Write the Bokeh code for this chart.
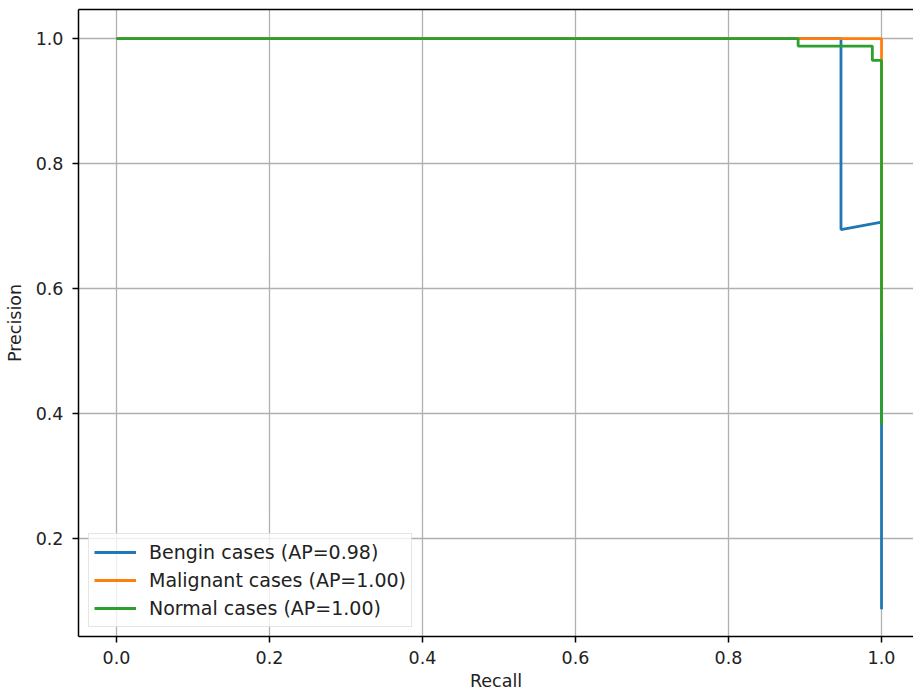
from bokeh.plotting import figure
from bokeh.models import Range1d, FixedTicker, PrintfTickFormatter, Legend, LegendItem, LinearAxis
from bokeh.embed import file_html
from bokeh.resources import INLINE

# Data
benign_recall = [0.0, 0.947, 0.947, 1.0, 1.0]
benign_precision = [1.0, 1.0, 0.694, 0.706, 0.086]
malignant_recall = [0.0, 1.0, 1.0]
malignant_precision = [1.0, 1.0, 0.53]
normal_recall = [0.0, 0.891, 0.891, 0.988, 0.988, 1.0, 1.0]
normal_precision = [1.0, 1.0, 0.988, 0.988, 0.965, 0.965, 0.381]
series_labels = ["Bengin cases (AP=0.98)", "Malignant cases (AP=1.00)", "Normal cases (AP=1.00)"]
series_colors = ["#1f77b4", "#ff7f0e", "#2ca02c"]
x_ticks = [0.0, 0.2, 0.4, 0.6, 0.8, 1.0]
y_ticks = [0.2, 0.4, 0.6, 0.8, 1.0]

FONT = "DejaVu Sans"

p = figure(width=913, height=693, output_backend="svg", toolbar_location=None,
           x_range=Range1d(-0.0497, 1.0418), y_range=Range1d(0.0424, 1.0465),
           min_border_left=78, min_border_top=9, min_border_right=0, min_border_bottom=57)
p.background_fill_color = "white"
p.border_fill_color = "white"
p.outline_line_color = None

# top border line
top = LinearAxis(ticker=FixedTicker(ticks=[]), major_label_text_font_size="0px",
                 major_tick_out=0, major_tick_in=0, minor_tick_out=0, minor_tick_in=0,
                 major_label_standoff=0, axis_line_color="black", axis_line_width=1.5)
p.add_layout(top, "above")

for ax, ticks in ((p.below[0], x_ticks), (p.left[0], y_ticks)):
    ax.ticker = FixedTicker(ticks=ticks)
    ax.formatter = PrintfTickFormatter(format="%.1f")
    ax.axis_line_color = "black"
    ax.axis_line_width = 1.5
    ax.major_tick_line_color = "black"
    ax.major_tick_line_width = 1.5
    ax.major_tick_out = 6
    ax.major_tick_in = 0
    ax.minor_tick_line_color = None
    ax.major_label_text_font = FONT
    ax.major_label_text_font_size = "17.5px"
    ax.major_label_text_color = "#222222"
    ax.axis_label_text_font = FONT
    ax.axis_label_text_font_size = "17.5px"
    ax.axis_label_text_font_style = "normal"
    ax.axis_label_text_color = "#222222"
    ax.major_label_text_line_height = 1.0
    ax.axis_label_text_line_height = 1.0

p.below[0].axis_label = "Recall"
p.below[0].major_label_standoff = 8
p.below[0].axis_label_standoff = 4
p.left[0].axis_label = "Precision"
p.left[0].major_label_standoff = 9
p.left[0].axis_label_standoff = 8

p.xgrid.ticker = FixedTicker(ticks=x_ticks)
p.ygrid.ticker = FixedTicker(ticks=y_ticks)
for g in (p.xgrid[0], p.ygrid[0]):
    g.grid_line_color = "#b0b0b0"
    g.grid_line_width = 1.3

r1 = p.line(benign_recall, benign_precision, line_color=series_colors[0], line_width=2.8)
r2 = p.line(malignant_recall, malignant_precision, line_color=series_colors[1], line_width=2.8)
r3 = p.line(normal_recall, normal_precision, line_color=series_colors[2], line_width=2.8)

legend = Legend(items=[LegendItem(label=series_labels[0], renderers=[r1]),
                       LegendItem(label=series_labels[1], renderers=[r2]),
                       LegendItem(label=series_labels[2], renderers=[r3])],
                location=(10, 9))
legend.label_text_font = FONT
legend.label_text_font_size = "19px"
legend.label_text_color = "#222222"
legend.glyph_width = 42
legend.glyph_height = 26
legend.label_height = 26
legend.spacing = 2
legend.padding = 5
legend.label_standoff = 13
legend.margin = 0
legend.border_line_color = "#cccccc"
legend.border_line_width = 1
legend.background_fill_color = "white"
legend.background_fill_alpha = 0.8
p.add_layout(legend)

open("out.html", "w").write(file_html(p, INLINE))
